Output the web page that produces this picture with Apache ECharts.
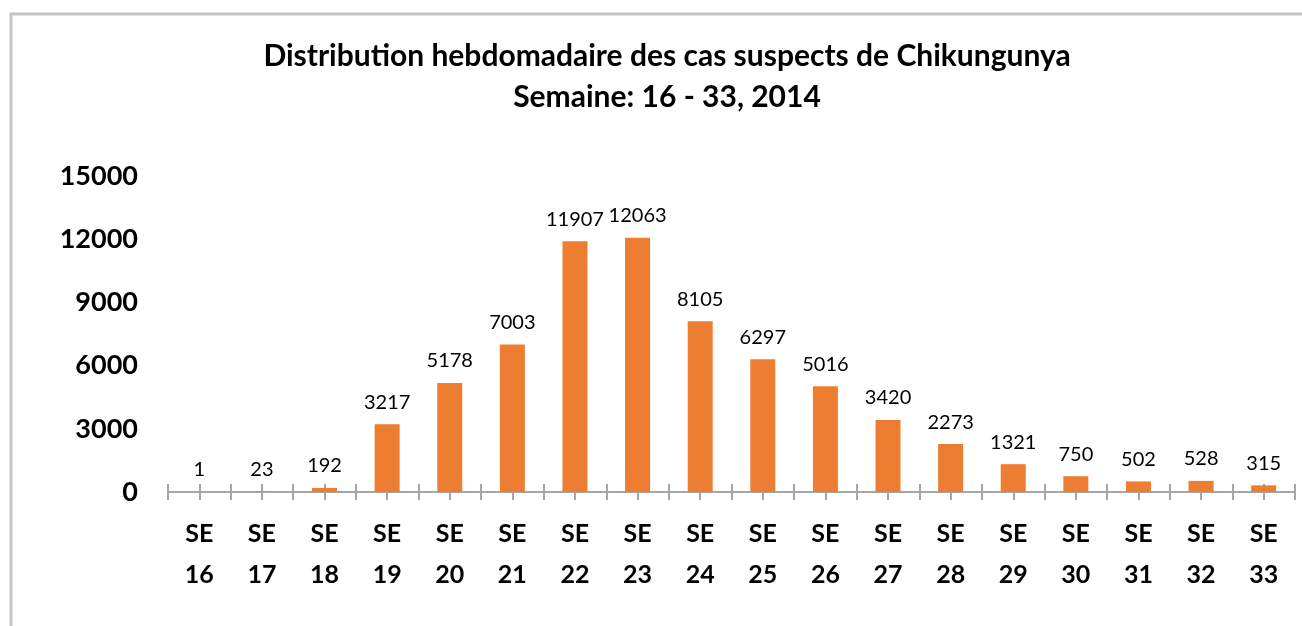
<!DOCTYPE html>
<html>
<head>
<meta charset="utf-8">
<script src="https://cdn.jsdelivr.net/npm/echarts@6/dist/echarts.min.js"></script>
<style>
html, body { margin: 0; padding: 0; background: #fff; }
#main { width: 1302px; height: 626px; }
</style>
</head>
<body>
<div id="main"></div>
<script>
var weeks = ['16', '17', '18', '19', '20', '21', '22', '23', '24', '25', '26', '27', '28', '29', '30', '31', '32', '33'];
var cases = [1, 23, 192, 3217, 5178, 7003, 11907, 12063, 8105, 6297, 5016, 3420, 2273, 1321, 750, 502, 528, 315];
var yTicks = [0, 3000, 6000, 9000, 12000, 15000];

var chartDom = document.getElementById('main');
var myChart = echarts.init(chartDom, null, { renderer: 'canvas' });
var fontName = 'Lato';

var categories = [];
for (var i = 0; i < weeks.length; i++) {
	categories.push('SE\n' + weeks[i]);
}

// tick marks every half category, crossing the axis line
var tickAxis = function(inside) {
	return {
		type : 'value',
		position : 'bottom',
		min : 0,
		max : weeks.length,
		interval : 0.5,
		axisLine : { show : false },
		axisLabel : { show : false },
		splitLine : { show : false },
		axisTick : {
			show : true,
			inside : inside,
			length : 8,
			lineStyle : { color : '#a6a6a6', width : 2 }
		}
	};
};

var option = {
	backgroundColor : '#fff',
	animation : false,
	title : {
		text : 'Distribution hebdomadaire des cas suspects de Chikungunya\nSemaine: 16 - 33, 2014',
		left : 662,
		textAlign : 'center',
		top : 31,
		textStyle : {
			fontFamily : fontName,
			fontWeight : 'bold',
			fontSize : 30,
			lineHeight : 41,
			color : '#000'
		}
	},
	graphic : [{
		type : 'polyline',
		shape : { points : [[11, 626], [11, 14], [1302, 14]] },
		style : { stroke : '#c3c3c3', lineWidth : 3, fill : null }
	}],
	grid : {
		left : 168,
		right : 7,
		top : 176,
		bottom : 134
	},
	xAxis : [{
		type : 'category',
		data : categories,
		axisLine : { show : true, lineStyle : { color : '#a6a6a6', width : 2 } },
		axisTick : { show : false },
		axisLabel : {
			interval : 0,
			margin : 21,
			fontFamily : fontName,
			fontWeight : 'bold',
			fontSize : 25,
			lineHeight : 41,
			color : '#000'
		}
	}, tickAxis(true), tickAxis(false)],
	yAxis : {
		type : 'value',
		min : yTicks[0],
		max : yTicks[yTicks.length - 1],
		interval : yTicks[1] - yTicks[0],
		axisLine : { show : false },
		axisTick : { show : false },
		splitLine : { show : false },
		axisLabel : {
			margin : 30,
			fontFamily : fontName,
			fontWeight : 'bold',
			fontSize : 27,
			color : '#000',
			formatter : function(v) { return String(v); }
		}
	},
	series : [{
		type : 'bar',
		data : cases,
		xAxisIndex : 0,
		barWidth : 25,
		itemStyle : { color : '#ed7d31' },
		label : {
			show : true,
			position : 'top',
			distance : 12,
			fontFamily : fontName,
			fontSize : 20,
			color : '#000'
		}
	}]
};

option && myChart.setOption(option);
</script>
</body>
</html>
